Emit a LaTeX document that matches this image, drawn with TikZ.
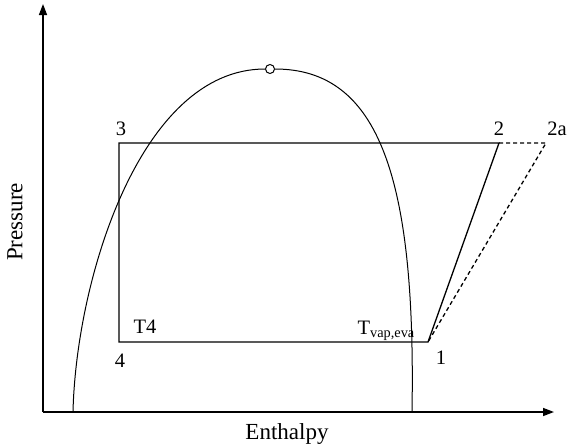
\documentclass[tikz,border=0pt]{standalone}
\usepackage{fontspec}
\setmainfont{Liberation Serif}
\usetikzlibrary{arrows.meta}
\begin{document}
\begin{tikzpicture}[x=1pt,y=-1pt,
  axis/.style={line width=1.5pt,-{Triangle[length=11pt,width=8pt]}},
  cycle/.style={line width=1.3pt},
  dome/.style={line width=1pt},
  lbl/.style={font=\fontsize{20.5}{23}\selectfont, inner sep=0pt},
  axlbl/.style={font=\fontsize{23}{26}\selectfont, inner sep=0pt}]
\useasboundingbox (0,0) rectangle (576,447);
\coordinate (O) at (43,412);
\coordinate (ytop) at (43,4);
\coordinate (xend) at (554,412);
\draw[axis] (O) -- (ytop);
\draw[axis] (O) -- (xend);
% saturation dome
\coordinate (dl) at (73,412);
\coordinate (dr) at (412,412);
\node[circle,draw,fill=white,line width=1pt,minimum size=9pt,inner sep=0pt] (crit) at (270,69) {};
\draw[dome] (dl) .. controls (76,280) and (140,69) .. (crit.west);
\draw[dome] (crit.east) .. controls (380,69) and (416,180) .. (dr);
% cycle
\coordinate (p1) at (428,342);
\coordinate (p2) at (499,143);
\coordinate (p2a) at (546,143);
\coordinate (p3) at (119,143);
\coordinate (p4) at (119,342);
\draw[cycle] (p1) -- (p4) -- (p3) -- (p2) -- cycle;
\draw[line width=1.3pt,dashed,dash pattern=on 4pt off 3pt] (p2) -- (p2a) -- (p1);
% labels
\node[lbl] (l3) at (121,129) {3};
\node[lbl] (l2) at (499,129) {2};
\node[lbl] (l2a) at (557,129) {2a};
\node[lbl] (lT4) at (145,327) {T4};
\node[lbl] (l4) at (120,361) {4};
\node[lbl] (l1) at (441,358) {1};
\node[lbl,anchor=base east] (lT) at (415,334) {T\textsubscript{vap,eva}};
\node[axlbl,rotate=90] (ylab) at (15,222) {Pressure};
\node[axlbl] (xlab) at (287,434) {Enthalpy};
\end{tikzpicture}
\end{document}
